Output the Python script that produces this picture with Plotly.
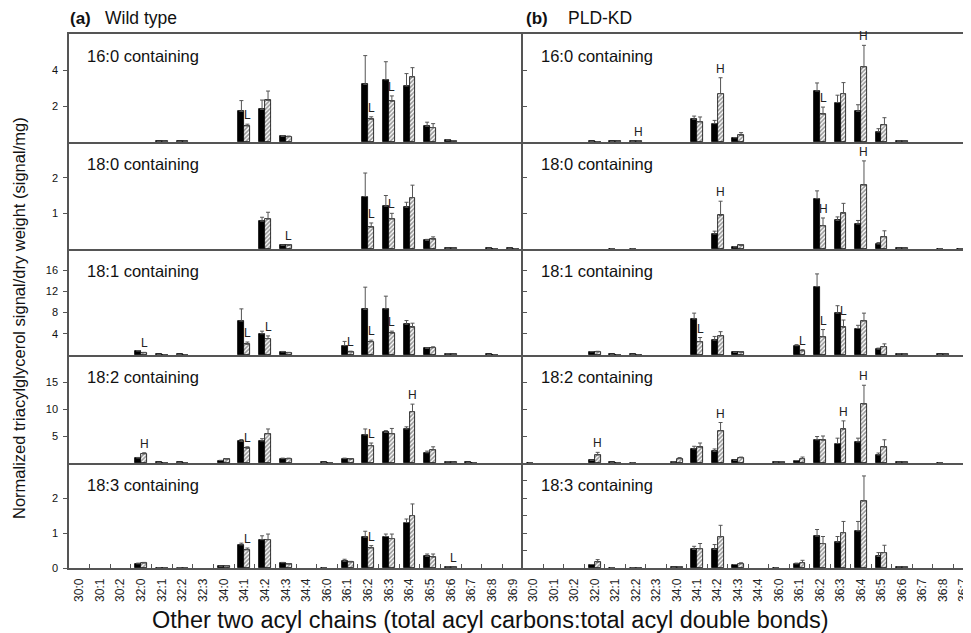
import plotly.graph_objects as go

# ---------------- data ----------------
CATS_A = ["30:0", "30:1", "30:2", "32:0", "32:1", "32:2", "32:3", "34:0", "34:1", "34:2", "34:3",
          "34:4", "36:0", "36:1", "36:2", "36:3", "36:4", "36:5", "36:6", "36:7", "36:8", "36:9"]
CATS_B = ["30:0", "30:1", "30:2", "32:0", "32:1", "32:2", "32:3", "34:0", "34:1", "34:2", "34:3",
          "34:4", "36:0", "36:1", "36:2", "36:3", "36:4", "36:5", "36:6", "36:7", "36:8", "36:7"]

ROW_NAMES = ["16:0 containing", "18:0 containing", "18:1 containing", "18:2 containing", "18:3 containing"]
Y_MAX = [6, 3, 20, 20, 3]
TICKS_A = [[2, 4], [1, 2], [4, 8, 12, 16], [5, 10, 15], [0, 1, 2]]
TICKS_B = [[2, 4], [1, 2], [4, 8, 12, 16], [5, 10, 15], [0.5, 1, 1.5, 2, 2.5]]

# (a) Wild type : solid (black) bars, hatched bars, and their error bars
WT_160_S = [0, 0, 0, 0, 0.03, 0.03, 0, 0, 1.70, 1.81, 0.31, 0, 0, 0, 3.20, 3.46, 3.11, 0.87, 0.10, 0, 0, 0]
WT_160_SE = [0, 0, 0, 0, 0, 0, 0, 0, 0.60, 0.52, 0.04, 0, 0, 0, 1.60, 1.00, 0.69, 0.23, 0.02, 0, 0, 0]
WT_160_H = [0, 0, 0, 0, 0.03, 0.03, 0, 0, 0.89, 2.31, 0.30, 0, 0, 0, 1.26, 2.26, 3.61, 0.80, 0.07, 0, 0, 0]
WT_160_HE = [0, 0, 0, 0, 0, 0, 0, 0, 0.10, 0.52, 0.03, 0, 0, 0, 0.14, 0.30, 0.52, 0.22, 0.01, 0, 0, 0]
WT_160_MARK = {"34:1": "L", "36:2": "L", "36:3": "L"}

WT_180_S = [0, 0, 0, 0, 0, 0, 0, 0, 0, 0.78, 0.10, 0, 0, 0, 1.47, 1.20, 1.17, 0.24, 0.02, 0, 0.02, 0.02]
WT_180_SE = [0, 0, 0, 0, 0, 0, 0, 0, 0, 0.11, 0.01, 0, 0, 0, 0.66, 0.30, 0.14, 0.03, 0, 0, 0, 0]
WT_180_H = [0, 0, 0, 0, 0, 0, 0, 0, 0, 0.84, 0.10, 0, 0, 0, 0.61, 0.84, 1.44, 0.27, 0.02, 0, 0.01, 0.01]
WT_180_HE = [0, 0, 0, 0, 0, 0, 0, 0, 0, 0.19, 0.02, 0, 0, 0, 0.12, 0.16, 0.35, 0.07, 0, 0, 0, 0]
WT_180_MARK = {"34:3": "L", "36:2": "L", "36:3": "L"}

WT_181_S = [0, 0, 0, 0.75, 0.1, 0.1, 0, 0, 6.4, 4.0, 0.57, 0, 0, 1.76, 8.6, 8.7, 5.8, 1.25, 0.2, 0, 0.1, 0]
WT_181_SE = [0, 0, 0, 0.1, 0, 0, 0, 0, 2.3, 0.5, 0.1, 0, 0, 0.8, 4.2, 2.4, 0.7, 0.1, 0, 0, 0, 0]
WT_181_H = [0, 0, 0, 0.45, 0.05, 0.05, 0, 0, 2.0, 3.1, 0.45, 0, 0, 0.57, 2.5, 4.1, 5.2, 1.4, 0.1, 0, 0.05, 0]
WT_181_HE = [0, 0, 0, 0.05, 0, 0, 0, 0, 0.45, 0.5, 0.05, 0, 0, 0.15, 0.3, 0.4, 0.8, 0.15, 0, 0, 0, 0]
WT_181_MARK = {"32:0": "L", "34:1": "L", "34:2": "L", "36:1": "L", "36:2": "L", "36:3": "L"}

WT_182_S = [0, 0, 0, 0.93, 0.1, 0.1, 0, 0.45, 4.0, 4.1, 0.8, 0, 0.1, 0.8, 5.2, 5.65, 6.3, 1.9, 0.2, 0.1, 0, 0]
WT_182_SE = [0, 0, 0, 0.1, 0, 0, 0, 0.05, 0.35, 0.4, 0.1, 0, 0, 0.1, 1.1, 0.35, 0.4, 0.3, 0, 0, 0, 0]
WT_182_H = [0, 0, 0, 1.7, 0.05, 0.05, 0, 0.7, 2.7, 5.4, 0.8, 0, 0.05, 0.7, 3.2, 5.4, 9.5, 2.4, 0.1, 0.05, 0, 0]
WT_182_HE = [0, 0, 0, 0.2, 0, 0, 0, 0.1, 0.3, 0.9, 0.1, 0, 0, 0.05, 0.5, 1.0, 1.4, 0.6, 0, 0, 0, 0]
WT_182_MARK = {"32:0": "H", "34:1": "L", "36:2": "L", "36:4": "H"}

WT_183_S = [0, 0, 0, 0.12, 0.01, 0.01, 0, 0.05, 0.66, 0.81, 0.15, 0, 0.01, 0.19, 0.88, 0.90, 1.30, 0.33, 0.03, 0, 0, 0]
WT_183_SE = [0, 0, 0, 0.02, 0, 0, 0, 0, 0.05, 0.11, 0.01, 0, 0, 0.06, 0.17, 0.07, 0.10, 0.07, 0, 0, 0, 0]
WT_183_H = [0, 0, 0, 0.14, 0.01, 0.01, 0, 0.06, 0.52, 0.81, 0.11, 0, 0, 0.17, 0.57, 0.84, 1.50, 0.31, 0.02, 0, 0, 0]
WT_183_HE = [0, 0, 0, 0.02, 0, 0, 0, 0, 0.05, 0.16, 0.01, 0, 0, 0.02, 0.07, 0.13, 0.33, 0.09, 0, 0, 0, 0]
WT_183_MARK = {"34:1": "L", "36:2": "L", "36:6": "L"}

# (b) PLD-KD
KD_160_S = [0, 0, 0, 0.03, 0.03, 0.04, 0, 0, 1.26, 1.02, 0.24, 0, 0, 0, 2.83, 2.19, 1.70, 0.56, 0.05, 0, 0, 0]
KD_160_SE = [0, 0, 0, 0, 0, 0, 0, 0, 0.18, 0.18, 0, 0, 0, 0, 0.45, 0.41, 0.37, 0.18, 0, 0, 0, 0]
KD_160_H = [0, 0, 0, 0.02, 0.03, 0.05, 0, 0, 1.11, 2.69, 0.37, 0, 0, 0, 1.54, 2.69, 4.17, 0.96, 0.05, 0, 0, 0]
KD_160_HE = [0, 0, 0, 0, 0, 0, 0, 0, 0.28, 0.88, 0.15, 0, 0, 0, 0.40, 0.61, 1.20, 0.39, 0, 0, 0, 0]
KD_160_MARK = {"32:2": "H", "34:2": "H", "36:2": "L", "36:4": "H"}

KD_180_S = [0, 0, 0, 0, 0.01, 0.01, 0, 0, 0, 0.42, 0.06, 0, 0, 0, 1.41, 0.80, 0.70, 0.14, 0.02, 0, 0.01, 0.01]
KD_180_SE = [0, 0, 0, 0, 0, 0, 0, 0, 0, 0.08, 0, 0, 0, 0, 0.22, 0.10, 0.10, 0.04, 0, 0, 0, 0]
KD_180_H = [0, 0, 0, 0, 0, 0, 0, 0, 0, 0.94, 0.10, 0, 0, 0, 0.65, 1.00, 1.79, 0.34, 0.02, 0, 0, 0]
KD_180_HE = [0, 0, 0, 0, 0, 0, 0, 0, 0, 0.40, 0.02, 0, 0, 0, 0.22, 0.28, 0.68, 0.17, 0, 0, 0, 0]
KD_180_MARK = {"34:2": "H", "36:2": "H", "36:4": "H"}

KD_181_S = [0, 0, 0, 0.6, 0.1, 0.1, 0, 0, 6.8, 2.8, 0.5, 0, 0, 1.75, 12.9, 7.9, 5.0, 1.1, 0.2, 0, 0.1, 0]
KD_181_SE = [0, 0, 0, 0.05, 0, 0, 0, 0, 1.1, 0.7, 0, 0, 0, 0.2, 2.4, 1.4, 0.6, 0.2, 0, 0, 0, 0]
KD_181_H = [0, 0, 0, 0.6, 0.05, 0.05, 0, 0, 2.5, 3.6, 0.5, 0, 0, 0.8, 3.4, 5.2, 6.4, 1.6, 0.15, 0, 0.1, 0]
KD_181_HE = [0, 0, 0, 0.1, 0, 0, 0, 0, 0.8, 0.8, 0.1, 0, 0, 0.2, 1.4, 1.4, 1.5, 0.5, 0, 0, 0, 0]
KD_181_MARK = {"34:1": "L", "36:1": "L", "36:2": "L", "36:3": "L"}

KD_182_S = [0.05, 0, 0, 0.5, 0.1, 0.05, 0, 0.2, 2.6, 2.15, 0.5, 0, 0.15, 0.45, 4.3, 3.6, 3.9, 1.5, 0.15, 0, 0.05, 0]
KD_182_SE = [0, 0, 0, 0, 0, 0, 0, 0, 0.5, 0.45, 0, 0, 0, 0, 0.6, 1.0, 0.7, 0.35, 0, 0, 0, 0]
KD_182_H = [0, 0, 0, 1.47, 0.05, 0, 0, 0.8, 2.9, 5.95, 1.0, 0, 0.2, 0.8, 4.2, 6.25, 10.9, 2.95, 0.15, 0, 0, 0]
KD_182_HE = [0, 0, 0, 0.5, 0, 0, 0, 0.2, 0.8, 1.55, 0.1, 0, 0, 0.3, 0.8, 1.55, 3.5, 1.35, 0, 0, 0, 0]
KD_182_MARK = {"32:0": "H", "34:2": "H", "36:3": "H", "36:4": "H"}

KD_183_S = [0, 0, 0, 0.10, 0.01, 0.01, 0, 0.02, 0.53, 0.53, 0.10, 0, 0.01, 0.12, 0.91, 0.74, 1.06, 0.33, 0.03, 0, 0, 0]
KD_183_SE = [0, 0, 0, 0, 0, 0, 0, 0, 0.09, 0.14, 0, 0, 0, 0.02, 0.19, 0.16, 0.27, 0.11, 0, 0, 0, 0]
KD_183_H = [0, 0, 0, 0.17, 0, 0.01, 0, 0.03, 0.55, 0.89, 0.12, 0, 0, 0.15, 0.70, 1.01, 1.91, 0.44, 0.03, 0, 0, 0]
KD_183_HE = [0, 0, 0, 0.07, 0, 0, 0, 0, 0.15, 0.33, 0.03, 0, 0, 0.07, 0.20, 0.32, 0.72, 0.21, 0, 0, 0, 0]
KD_183_MARK = {}

PANELS = [
    [(WT_160_S, WT_160_SE, WT_160_H, WT_160_HE, WT_160_MARK),
     (WT_180_S, WT_180_SE, WT_180_H, WT_180_HE, WT_180_MARK),
     (WT_181_S, WT_181_SE, WT_181_H, WT_181_HE, WT_181_MARK),
     (WT_182_S, WT_182_SE, WT_182_H, WT_182_HE, WT_182_MARK),
     (WT_183_S, WT_183_SE, WT_183_H, WT_183_HE, WT_183_MARK)],
    [(KD_160_S, KD_160_SE, KD_160_H, KD_160_HE, KD_160_MARK),
     (KD_180_S, KD_180_SE, KD_180_H, KD_180_HE, KD_180_MARK),
     (KD_181_S, KD_181_SE, KD_181_H, KD_181_HE, KD_181_MARK),
     (KD_182_S, KD_182_SE, KD_182_H, KD_182_HE, KD_182_MARK),
     (KD_183_S, KD_183_SE, KD_183_H, KD_183_HE, KD_183_MARK)],
]

# ---------------- layout geometry (page pixels) ----------------
PAGE_W, PAGE_H = 971, 633
OFF = 8                      # default body margin of the html page
W, H = PAGE_W - OFF, PAGE_H - OFF
TOPS = [34, 142, 249, 355, 463]
BASES = [142, 249, 355, 463, 568]
COL_X = [(69, 523), (523, 971)]
COL_RANGE = [(-0.5, 21.5), (-0.5, 21.37)]
BAR_W = 0.29
FONT = "Liberation Sans, Arial, Helvetica, sans-serif"
LINE_C = "#555555"


def px(x):
    return (x - OFF) / W


def py(y):
    return 1 - (y - OFF) / H


def nz(vals):
    return [v if v > 0 else None for v in vals]


fig = go.Figure()
layout = {}
annotations = []

for c in range(2):
    cats = CATS_A if c == 0 else CATS_B
    xs = list(range(len(cats)))
    for r in range(5):
        k = r * 2 + c + 1
        xa = "x" if k == 1 else f"x{k}"
        ya = "y" if k == 1 else f"y{k}"
        solid, solid_e, hatch, hatch_e, marks = PANELS[c][r]

        fig.add_trace(go.Bar(
            x=xs, y=nz(solid), width=BAR_W, offset=-BAR_W,
            marker=dict(color="black", line=dict(color="black", width=0.8)),
            error_y=dict(type="data", symmetric=False, array=solid_e,
                         arrayminus=[0] * len(xs), color="#555555", thickness=1, width=2),
            xaxis=xa, yaxis=ya, showlegend=False, hoverinfo="skip"))
        fig.add_trace(go.Bar(
            x=xs, y=nz(hatch), width=BAR_W, offset=0,
            marker=dict(color="white", line=dict(color="black", width=0.8),
                        pattern=dict(shape="/", fgcolor="#333333", bgcolor="white",
                                     size=3, solidity=0.55)),
            error_y=dict(type="data", symmetric=False, array=hatch_e,
                         arrayminus=[0] * len(xs), color="#555555", thickness=1, width=2),
            xaxis=xa, yaxis=ya, showlegend=False, hoverinfo="skip"))

        for cat, letter in marks.items():
            i = cats.index(cat)
            annotations.append(dict(
                x=i + BAR_W / 2, y=hatch[i] + hatch_e[i], xref=xa, yref=ya,
                text=letter, showarrow=False, yanchor="bottom", xanchor="center",
                font=dict(size=12, color="#222222", family=FONT)))

        x0, x1 = COL_X[c]
        xaxis = dict(
            domain=[px(x0), px(x1)], range=list(COL_RANGE[c]), anchor=ya,
            showline=True, linecolor=LINE_C, linewidth=1.5, mirror=(r == 0),
            showgrid=False, zeroline=False, ticks="", automargin=False,
            tickmode="array", tickvals=xs, ticktext=cats, tickangle=-90,
            showticklabels=(r == 4), ticklabelstandoff=4, ticklabeloverflow="allow",
            tickfont=dict(size=12, color="#222222", family=FONT))
        if r == 4:
            xaxis["minor"] = dict(tickmode="array", tickvals=[i + 0.5 for i in xs[:-1]],
                                  ticks="inside", ticklen=4, tickcolor=LINE_C, tickwidth=1,
                                  showgrid=False)
        layout["xaxis" if k == 1 else f"xaxis{k}"] = xaxis

        layout["yaxis" if k == 1 else f"yaxis{k}"] = dict(
            domain=[py(BASES[r]), py(TOPS[r])], range=[0, Y_MAX[r]], anchor=xa,
            showline=True, linecolor=LINE_C, linewidth=1.5, showgrid=False, zeroline=False,
            tickmode="array", tickvals=(TICKS_A if c == 0 else TICKS_B)[r],
            ticks="outside" if c == 0 else "inside", ticklen=4, tickcolor=LINE_C,
            showticklabels=(c == 0), automargin=False, ticklabelstandoff=3,
            tickfont=dict(size=11, color="#111111", family=FONT))

        # panel label
        annotations.append(dict(
            x=px(85 if c == 0 else 539), y=py(TOPS[r] + 22), xref="paper", yref="paper",
            text=ROW_NAMES[r], showarrow=False, xanchor="left", yanchor="middle",
            font=dict(size=16.5, color="#111111", family=FONT)))

# headers and axis titles
annotations += [
    dict(x=px(68), y=py(18), xref="paper", yref="paper", text="<b>(a)</b>", showarrow=False,
         xanchor="left", yanchor="middle", font=dict(size=17, color="#111111", family=FONT)),
    dict(x=px(103), y=py(18), xref="paper", yref="paper", text="Wild type", showarrow=False,
         xanchor="left", yanchor="middle", font=dict(size=17.5, color="#111111", family=FONT)),
    dict(x=px(524), y=py(18), xref="paper", yref="paper", text="<b>(b)</b>", showarrow=False,
         xanchor="left", yanchor="middle", font=dict(size=17, color="#111111", family=FONT)),
    dict(x=px(566), y=py(18), xref="paper", yref="paper", text="PLD-KD", showarrow=False,
         xanchor="left", yanchor="middle", font=dict(size=17.5, color="#111111", family=FONT)),
    dict(x=px(19), y=py(318), xref="paper", yref="paper",
         text="Normalized triacylglycerol signal/dry weight (signal/mg)", showarrow=False,
         textangle=-90, xanchor="center", yanchor="middle",
         font=dict(size=16.5, color="#111111", family=FONT)),
    dict(x=px(491), y=py(620), xref="paper", yref="paper",
         text="Other two acyl chains (total acyl carbons:total acyl double bonds)", showarrow=False,
         xanchor="center", yanchor="middle", font=dict(size=23.5, color="#111111", family=FONT)),
]

fig.update_layout(
    width=W, height=H, margin=dict(l=0, r=0, t=0, b=0),
    paper_bgcolor="white", plot_bgcolor="white",
    font=dict(family=FONT, color="#111111"),
    barmode="overlay", bargap=0, annotations=annotations, **layout)

fig.write_html("out.html")
